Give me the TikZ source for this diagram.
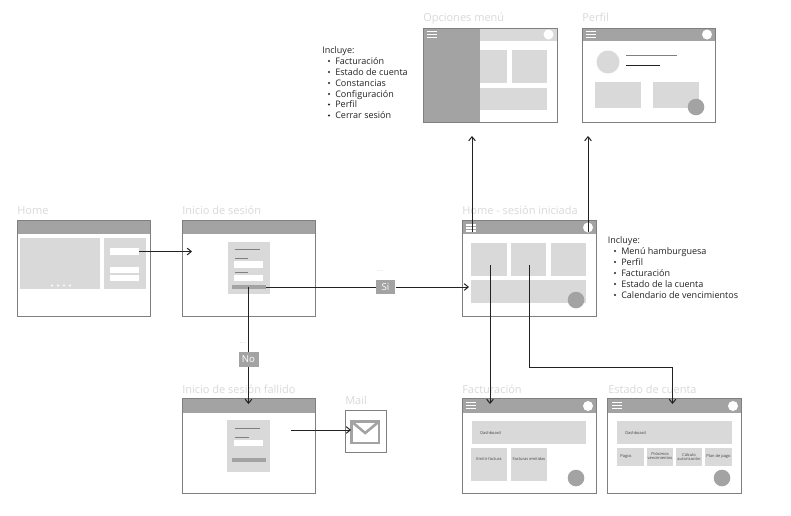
\documentclass[tikz,border=0pt]{standalone}
\usepackage{fontspec}
\setmainfont{Open Sans}
\usetikzlibrary{arrows.meta}
\definecolor{hdr}{HTML}{A3A3A3}
\definecolor{pale}{HTML}{D9D9D9}
\definecolor{frame}{HTML}{7F7F7F}
\definecolor{ttl}{HTML}{D9D9D9}
\definecolor{ink}{HTML}{222222}
\tikzset{
  x=0.75pt,y=-0.75pt,
  title/.style={anchor=base west,inner sep=0pt,text=ttl,font=\fontsize{8.25pt}{9pt}\selectfont},
  info/.style={anchor=base west,inner sep=0pt,align=left,text=ink,font=\fontsize{6.77pt}{8.15pt}\selectfont},
  tiny/.style={inner sep=0pt,text=ink!85,align=center,font=\fontsize{3pt}{3.6pt}\selectfont},
  tag/.style={fill=hdr,text=white,inner sep=0pt,font=\fontsize{7.2pt}{8pt}\selectfont},
  dots/.style={inner sep=0pt,text=ttl,font=\fontsize{6pt}{7pt}\selectfont},
  flow/.style={draw=ink,line width=0.75pt,-{Straight Barb[length=3pt,width=5pt]}},
  plainflow/.style={draw=ink,line width=0.75pt},
  textline/.style={draw=frame,line width=0.75pt},
}
\newcommand{\burger}[2]{\foreach \d in {0,3,6}{\fill[white] (#1,#2+\d-0.6) rectangle (#1+10,#2+\d+0.6);}}
\newcommand{\bubble}[2]{\fill[white] (#1,#2) circle[radius=5];}
\newcommand{\fab}[2]{\fill[hdr] (#1,#2) circle[radius=8.3];}
\newcommand{\frameit}[4]{\draw[frame,line width=0.75pt] (#1,#2) rectangle (#3,#4);}
\begin{document}
\begin{tikzpicture}
\useasboundingbox (0,0) rectangle (791,515);
\fill[white] (0,0) rectangle (791,515);
% ---------- Home
\node[title] (tHome) at (17,214) {Home};
\fill[white] (17,220.5) rectangle (150,316);
\fill[hdr] (17,220.5) rectangle (150,234);
\fill[pale] (20,238) rectangle (100,289);
\fill[pale] (104,238) rectangle (146,289);
\fill[white] (110,248) rectangle (139,255);
\fill[white] (110,267) rectangle (139,273);
\fill[white] (110,275) rectangle (139,281);
\foreach \x in {52,58,64,70}{\fill[white] (\x,285.5) circle[radius=1.2];}
\frameit{17}{220.5}{150}{316}
% ---------- Inicio de sesion
\node[title] (tIni) at (182,214) {Inicio de sesión};
\fill[white] (182,220.5) rectangle (315,316);
\fill[hdr] (182,220.5) rectangle (315,234);
\fill[pale] (228,242) rectangle (269.5,294);
\draw[textline] (235,249.5) -- (260,249.5);
\draw[textline] (235,258.5) -- (248,258.5);
\fill[white] (234,261) rectangle (263,268);
\draw[textline] (235,272.5) -- (248,272.5);
\fill[white] (234,275) rectangle (263,281);
\fill[hdr] (232,285) rectangle (265.5,289);
\frameit{182}{220.5}{315}{316}
% ---------- Inicio fallido
\node[title] (tFail) at (182,393) {Inicio de sesión fallido};
\fill[white] (182,398.5) rectangle (315,493);
\fill[hdr] (182,398.5) rectangle (315,413);
\fill[pale] (227,420) rectangle (269.5,472);
\draw[textline] (235,428) -- (260,428);
\draw[textline] (235,437) -- (249,437);
\fill[white] (234,439.5) rectangle (263,446);
\fill[hdr] (232,458) rectangle (265.5,462);
\frameit{182}{398.5}{315}{493}
% ---------- Mail
\node[title] (tMail) at (345,404) {Mail};
\frameit{345}{410}{386}{452}
\draw[hdr,line width=1.9pt] (351.5,421.5) rectangle (379,443);
\draw[hdr,line width=1.9pt] (351.5,421.5) -- (365.2,433) -- (379,421.5);
\coordinate (mailIn) at (351,430);
% ---------- Home sesion iniciada
\node[title] (tHS) at (462,214) {Home - sesión iniciada};
\fill[white] (462,220.5) rectangle (596,316);
\fill[hdr] (462,220.5) rectangle (596,234);
\burger{466}{225}
\bubble{588}{227.5}
\fill[pale] (471,243) rectangle (507,276);
\fill[pale] (511,243) rectangle (546,276);
\fill[pale] (551,243) rectangle (586,276);
\fill[pale] (471,280) rectangle (586,303);
\fab{576}{300}
\frameit{462}{220.5}{596}{316}
\node[info] (nHS) at (607.5,243.5) {Incluye:};
\foreach \t/\y in {Menú hamburguesa/251,Perfil/262,Facturación/273,Estado de la cuenta/284,Calendario de vencimientos/295}{
  \fill[ink] (615,\y) circle[radius=1.2];
  \node[info] at (621,\y+3.2) {\t};
}
% ---------- Facturacion
\node[title] (tFac) at (462,393) {Facturación};
\fill[white] (462,398.5) rectangle (596,493);
\fill[hdr] (462,398.5) rectangle (596,413);
\burger{466}{402.8}
\bubble{588}{406}
\fill[pale] (472,421) rectangle (586,444);
\node[tiny,anchor=west] (d1) at (480,432.5) {Dashboard};
\fill[pale] (471,448) rectangle (507,481);
\fill[pale] (511,448) rectangle (547,481);
\node[tiny] (f1) at (489,458.5) {Emitir factura};
\node[tiny] (f2) at (529,458.5) {Facturas emitidas};
\fab{576}{478}
\frameit{462}{398.5}{596}{493}
% ---------- Estado de cuenta
\node[title] (tEst) at (608,393) {Estado de cuenta};
\fill[white] (607.5,398.5) rectangle (741,493);
\fill[hdr] (607.5,398.5) rectangle (741,413);
\burger{612}{402.8}
\bubble{733}{406}
\fill[pale] (617,421) rectangle (732,444);
\node[tiny,anchor=west] (d2) at (625,432.5) {Dashboard};
\fill[pale] (617,448) rectangle (644,466);
\fill[pale] (647,448) rectangle (673,466);
\fill[pale] (676,448) rectangle (702,466);
\fill[pale] (705,448) rectangle (732,466);
\node[tiny] (e1) at (626,456.5) {Pagos};
\node[tiny] (e2) at (660,456) {Próximos\\vencimientos};
\node[tiny] (e3) at (689,457) {Cálculo\\autorización};
\node[tiny] (e4) at (718.5,456.5) {Plan de pago};
\fab{722}{478}
\frameit{607.5}{398.5}{741}{493}
% ---------- Opciones menu
\node[title] (tOp) at (423,21) {Opciones menú};
\fill[white] (423,28) rectangle (557,122);
\fill[pale] (480,28) rectangle (557,41);
\fill[pale] (480,50) rectangle (507,83);
\fill[pale] (512,50) rectangle (547,83);
\fill[pale] (480,88) rectangle (547,110);
\fill[hdr] (423,28) rectangle (480,122);
\burger{427}{31.7}
\bubble{548.5}{34.5}
\frameit{423}{28}{557}{122}
\node[info] (nOp) at (322,53) {Incluye:};
\foreach \t/\y in {Facturación/61,Estado de cuenta/72,Constancias/83,Configuración/94,Perfil/104.5,Cerrar sesión/115.5}{
  \fill[ink] (329,\y) circle[radius=1.2];
  \node[info] at (335,\y+3.2) {\t};
}
% ---------- Perfil
\node[title] (tPer) at (582,21) {Perfil};
\fill[white] (582,28) rectangle (715,122);
\fill[hdr] (582,28) rectangle (715,41);
\burger{586}{31.7}
\bubble{707}{34.5}
\fill[pale] (608,62) circle[radius=11.5];
\draw[textline] (626,55.5) -- (677,55.5);
\draw[ink,line width=0.75pt] (626,65.5) -- (660,65.5);
\fill[pale] (595,82) rectangle (641,108);
\fill[pale] (653,82) rectangle (699,108);
\fab{696}{107}
\frameit{582}{28}{715}{122}
% ---------- Connectors
\coordinate (homeBtn) at (139,251.5);
\coordinate (loginIn) at (192,251.5);
\draw[flow] (homeBtn) -- (loginIn);
\coordinate (btnR) at (265.5,287);
\coordinate (btnC) at (248.5,287);
\coordinate (hsIn) at (469,287);
\coordinate (failIn) at (248.5,404);
\coordinate (failOut) at (291,430);
\node[tag,minimum width=14.6pt,minimum height=11pt] (si) at (385.5,287) {Si};
\node[dots] (siD) at (380,271.5) {...};
\node[tag,minimum width=15pt,minimum height=11pt] (no) at (248.5,359.5) {No};
\node[dots] (noD) at (243,343.5) {...};
\draw[plainflow] (btnR) -- (si);
\draw[flow] (si) -- (hsIn);
\draw[plainflow] (btnC) -- (no);
\draw[flow] (no) -- (failIn);
\draw[flow] (failOut) -- (mailIn);
\coordinate (upA) at (472,232);
\coordinate (upAend) at (472,136);
\coordinate (upB) at (588,232);
\coordinate (upBend) at (588,136);
\draw[flow] (upA) -- (upAend);
\draw[flow] (upB) -- (upBend);
\coordinate (dnA) at (490,265);
\coordinate (dnAend) at (490,404);
\draw[flow] (dnA) -- (dnAend);
\coordinate (dnB) at (529.5,265);
\coordinate (dnBend) at (672.5,404);
\draw[flow] (dnB) -- (529.5,367) -- (672.5,367) -- (dnBend);
\end{tikzpicture}
\end{document}
